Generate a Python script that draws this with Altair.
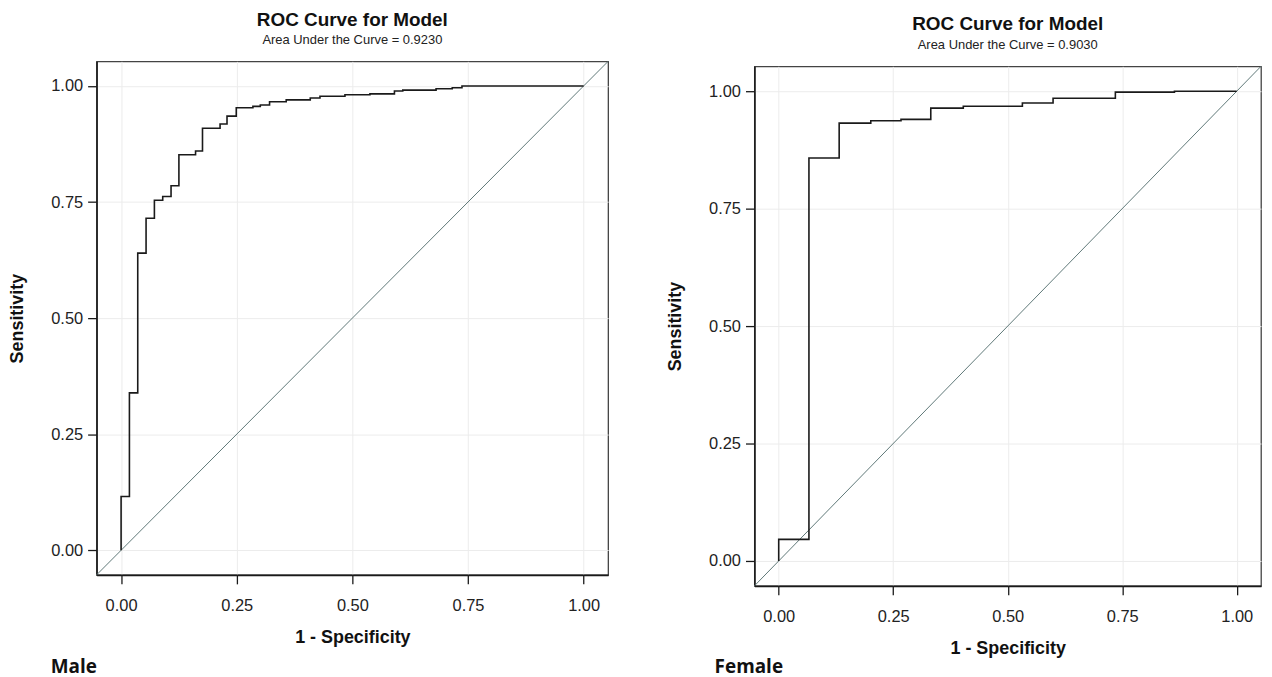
import altair as alt
import pandas as pd

# ---- data ----
male_fpr = [0.0, 0.0, 0.018, 0.036, 0.054, 0.072, 0.090, 0.108, 0.125, 0.161,
            0.176, 0.214, 0.229, 0.249, 0.285, 0.301, 0.321, 0.357,
            0.409, 0.430, 0.484, 0.538, 0.591, 0.609, 0.681, 0.716, 0.737, 1.0]
male_tpr = [0.0, 0.116, 0.339, 0.640, 0.715, 0.754, 0.762, 0.785, 0.852, 0.860,
            0.909, 0.918, 0.935, 0.953, 0.956, 0.959, 0.966, 0.970,
            0.974, 0.978, 0.981, 0.983, 0.989, 0.991, 0.994, 0.996, 1.0, 1.0]

female_fpr = [0.0, 0.0, 0.066, 0.132, 0.201, 0.267, 0.332, 0.403, 0.532, 0.599, 0.735, 0.864, 1.0]
female_tpr = [0.0, 0.046, 0.858, 0.932, 0.937, 0.940, 0.964, 0.968, 0.975, 0.985, 0.998, 1.0, 1.0]

axis_domain = [-0.053, 1.053]
diag = [-0.053, 1.053]
tick_values = [0.0, 0.25, 0.5, 0.75, 1.0]

chart_title = "ROC Curve for Model"
male_auc = "Area Under the Curve = 0.9230"
female_auc = "Area Under the Curve = 0.9030"
male_label = "Male"
female_label = "Female"
x_title = "1 - Specificity"
y_title = "Sensitivity"

FONT = "Liberation Sans"


def panel(fpr, tpr, auc_text, label, w, h, label_x, label_dy):
    df = pd.DataFrame({"fpr": fpr, "tpr": tpr, "idx": list(range(len(fpr)))})
    ddf = pd.DataFrame({"fpr": diag, "tpr": diag})
    xs = alt.Scale(domain=axis_domain, nice=False, zero=False)
    ys = alt.Scale(domain=axis_domain, nice=False, zero=False)
    xa = alt.Axis(values=tick_values, format=".2f", title=x_title,
                  labelPadding=14, titlePadding=14, titleFontSize=18)
    ya = alt.Axis(values=tick_values, format=".2f", title=y_title,
                  labelPadding=5, titlePadding=24, titleFontSize=18)
    diag_line = alt.Chart(ddf).mark_line(color="#5f7878", strokeWidth=1).encode(
        x=alt.X("fpr:Q", scale=xs, axis=xa),
        y=alt.Y("tpr:Q", scale=ys, axis=ya),
    )
    curve = alt.Chart(df).mark_line(interpolate="step-after", color="#1a1a1a",
                                    strokeWidth=1.6).encode(
        x=alt.X("fpr:Q", scale=xs, axis=xa),
        y=alt.Y("tpr:Q", scale=ys, axis=ya),
        order=alt.Order("idx:Q"),
    )
    lbl = alt.Chart(pd.DataFrame({"t": [label]})).mark_text(
        align="left", baseline="middle", font="Open Sans", fontWeight="bold",
        fontSize=19, color="#111111").encode(
        x=alt.value(label_x), y=alt.value(h + label_dy), text="t:N")
    return alt.layer(diag_line, curve, lbl).properties(
        width=w, height=h,
        title=alt.TitleParams(
            text=chart_title, subtitle=auc_text, anchor="middle",
            font=FONT, fontSize=19, fontWeight="bold", color="#111111",
            subtitleFont=FONT, subtitleFontSize=13, subtitleColor="#222222",
            subtitlePadding=5, offset=12),
    )


left = panel(male_fpr, male_tpr, male_auc, male_label, 514, 516, -46, 93)
right_core = panel(female_fpr, female_tpr, female_auc, female_label, 509, 522, -40, 82)

# thin invisible spacer: the right-hand panel sits a few pixels lower than the left
spacer = alt.Chart(pd.DataFrame({"t": [0]})).mark_point(opacity=0, size=1).encode(
    x=alt.value(0), y=alt.value(0)
).properties(width=509, height=1, view=alt.ViewBackground(strokeOpacity=0))

right = alt.vconcat(spacer, right_core, spacing=-48)

chart = alt.hconcat(left, right, spacing=55).properties(
    padding={"left": 0, "top": 0, "right": 0, "bottom": 0}
).configure_view(
    stroke="#444444", strokeWidth=1.3
).configure_axis(
    labelFont=FONT, labelFontSize=16.5, labelColor="#222222",
    titleFont=FONT, titleFontWeight="bold", titleColor="#111111",
    gridColor="#ececec", gridWidth=1,
    domainColor="#1a1a1a", domainWidth=1.6,
    tickColor="#1a1a1a", tickWidth=1.3, tickSize=9,
)

chart.save("out.html", embed_options={"renderer": "svg", "actions": False})
